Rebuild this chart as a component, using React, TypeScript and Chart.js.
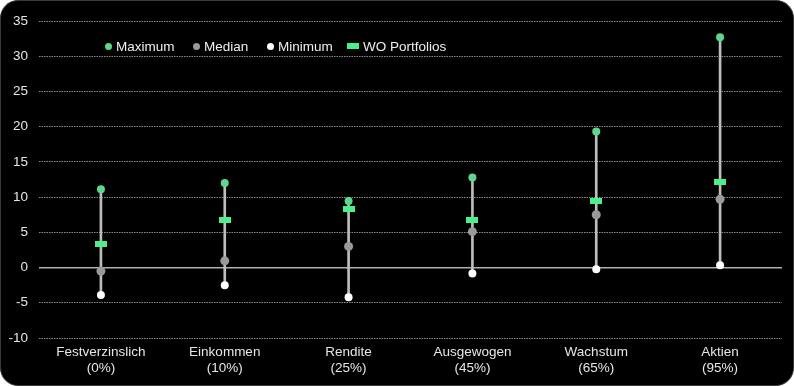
import React, { useEffect, useRef } from "react";
import { Chart, registerables } from "chart.js";

Chart.register(...registerables);

const categories: string[][] = [
  ["Festverzinslich", "(0%)"],
  ["Einkommen", "(10%)"],
  ["Rendite", "(25%)"],
  ["Ausgewogen", "(45%)"],
  ["Wachstum", "(65%)"],
  ["Aktien", "(95%)"],
];
const maximum = [11.1, 12.0, 9.45, 12.8, 19.3, 32.7];
const median = [-0.5, 0.95, 3.0, 5.1, 7.5, 9.7];
const minimum = [-3.9, -2.5, -4.2, -0.85, -0.25, 0.33];
const woPortfolios = [3.3, 6.7, 8.3, 6.8, 9.4, 12.2];
const yMin = -10;
const yMax = 35;
const yStep = 5;

const legendItems = [
  { label: "Maximum", kind: "dot", color: "#5fd68d", left: 105 },
  { label: "Median", kind: "dot", color: "#9a9a9a", left: 193 },
  { label: "Minimum", kind: "dot", color: "#ffffff", left: 267 },
  { label: "WO Portfolios", kind: "rect", color: "#4cf08a", left: 347 },
];

const FONT = '"Liberation Sans", Arial, sans-serif';

function makeRect(w: number, h: number, color: string) {
  const c = document.createElement("canvas");
  c.width = w;
  c.height = h;
  const g = c.getContext("2d")!;
  g.fillStyle = color;
  g.fillRect(0, 0, w, h);
  return c;
}

export default function App() {
  const ref = useRef<HTMLCanvasElement | null>(null);

  useEffect(() => {
    document.body.style.margin = "0";
    const canvas = ref.current!;
    const rangeData = minimum.map((m, i) => [m, maximum[i]]);
    const chart = new Chart(canvas, {
      type: "bar",
      data: {
        labels: categories,
        datasets: [
          {
            type: "line",
            label: "Maximum",
            data: maximum,
            showLine: false,
            pointStyle: "circle",
            pointRadius: 4,
            pointBackgroundColor: "#5fd68d",
            pointBorderWidth: 0,
            order: 1,
          },
          {
            type: "line",
            label: "Median",
            data: median,
            showLine: false,
            pointStyle: "circle",
            pointRadius: 4.5,
            pointBackgroundColor: "#9a9a9a",
            pointBorderWidth: 0,
            order: 1,
          },
          {
            type: "line",
            label: "Minimum",
            data: minimum,
            showLine: false,
            pointStyle: "circle",
            pointRadius: 4,
            pointBackgroundColor: "#ffffff",
            pointBorderWidth: 0,
            order: 1,
          },
          {
            type: "line",
            label: "WO Portfolios",
            data: woPortfolios,
            showLine: false,
            pointStyle: makeRect(12, 6, "#4cf08a") as any,
            pointRadius: 6,
            order: 0,
          },
          {
            type: "bar",
            label: "range",
            data: rangeData as any,
            backgroundColor: "#bdbdbd",
            barThickness: 2,
            grouped: false,
            order: 5,
          } as any,
        ],
      },
      options: {
        responsive: false,
        animation: false,
        layout: { padding: { top: 21, right: 12, bottom: 0, left: 0 } },
        plugins: {
          legend: { display: false },
          tooltip: { enabled: false },
        },
        scales: {
          x: {
            offset: true,
            grid: { display: false },
            border: { display: false },
            ticks: {
              color: "#e6e6e6",
              font: { family: FONT, size: 13.5, lineHeight: 1.22 },
              padding: -2,
              maxRotation: 0,
              autoSkip: false,
            },
            afterFit: (s: any) => {
              s.height = 48;
            },
          },
          y: {
            min: yMin,
            max: yMax,
            ticks: {
              stepSize: yStep,
              color: "#e6e6e6",
              font: { family: FONT, size: 13.5 },
              padding: 11,
            },
            grid: {
              drawTicks: false,
              color: (ctx: any) => (ctx.tick && ctx.tick.value === 0 ? "#b0b0b0" : "#8a8a8a"),
              lineWidth: (ctx: any) => (ctx.tick && ctx.tick.value === 0 ? 1.5 : 1),
            },
            border: {
              display: false,
              dash: (ctx: any) => (ctx.tick && ctx.tick.value === 0 ? [] : [1.5, 1]),
            } as any,
            afterFit: (s: any) => {
              s.width = 39;
            },
          },
        },
      },
    });
    return () => chart.destroy();
  }, []);

  return (
    <div
      style={{
        position: "fixed",
        left: 0,
        top: 0,
        width: 794,
        height: 386,
        background: "#ffffff",
      }}
    >
      <div
        style={{
          position: "absolute",
          left: 0,
          top: 0,
          width: 792,
          height: 384,
          background: "#000",
          border: "1px solid #3a3a3a",
          borderRadius: 18,
          overflow: "hidden",
        }}
      />
      <canvas
        ref={ref}
        width={794}
        height={386}
        style={{ position: "absolute", left: 0, top: 0, width: 794, height: 386 }}
      />
      {legendItems.map((it) => (
        <div
          key={it.label}
          style={{
            position: "absolute",
            left: it.left,
            top: 37,
            height: 18,
            display: "flex",
            alignItems: "center",
            fontFamily: FONT,
            fontSize: 13.5,
            color: "#eeeeee",
            whiteSpace: "nowrap",
          }}
        >
          <span
            style={{
              display: "inline-block",
              width: it.kind === "rect" ? 12 : 7,
              height: it.kind === "rect" ? 6 : 7,
              borderRadius: it.kind === "rect" ? 0 : "50%",
              background: it.color,
              marginRight: 4,
            }}
          />
          <span>{it.label}</span>
        </div>
      ))}
    </div>
  );
}
